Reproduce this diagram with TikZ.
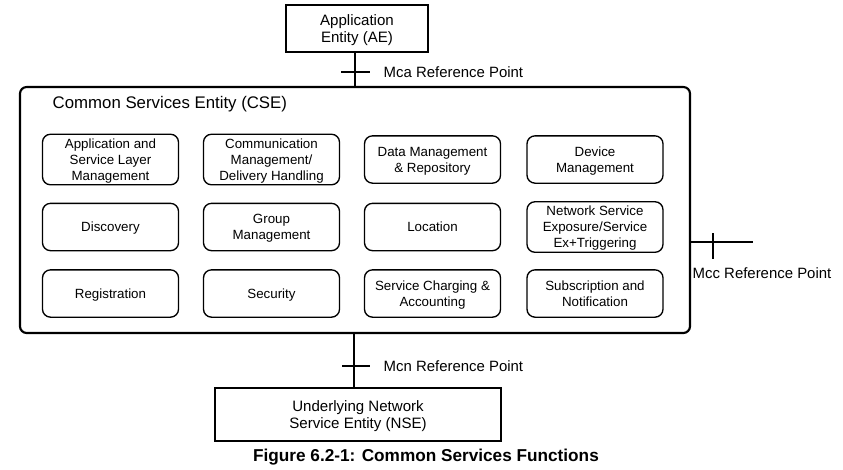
\documentclass[tikz,border=0pt]{standalone}
\usepackage{fontspec}
\setmainfont{Liberation Sans}
\usepackage{tikz}
\usetikzlibrary{positioning}

\begin{document}
\begin{tikzpicture}[x=0.75pt, y=-0.75pt,
  entity/.style={draw, line width=1.5pt, align=center, text depth=0pt,
              font=\fontsize{11.3}{13.2}\selectfont},
  func/.style={draw, line width=1pt, rounded corners=6pt, minimum width=102pt,
              minimum height=35.5pt, align=center, text depth=0pt,
              font=\fontsize{10}{12}\selectfont},
  cse/.style={draw, line width=1.6pt, rounded corners=5pt, minimum width=502.5pt,
              minimum height=184.5pt},
  link/.style={line width=1.4pt},
  refpt/.style={font=\fontsize{11.2}{13}\selectfont}
]
  \useasboundingbox (0,0) rectangle (843,469);
  % entities
  \node[entity, minimum width=106.5pt, minimum height=35.25pt, text depth=-1.5pt] (ae)
    at (357,28.5) {Application\\Entity (AE)};
  \node[cse] (cse) at (355,210) {};
  \node[font=\fontsize{12.6}{15}\selectfont, anchor=west] (csetitle) at (48,104)
    {Common Services Entity (CSE)};
  \node[entity, minimum width=214.5pt, minimum height=39.75pt, text depth=-4pt] (nse)
    at (358,414.5) {Underlying Network\\Service Entity (NSE)};

  % common services functions
  \node[func] (asl)  at (110.5,159.5) {Application and\\Service Layer\\Management};
  \node[func] (cmdh) at (271.5,159.5) {Communication\\Management/\\Delivery Handling};
  \node[func] (dmr)  at (432.5,159.5) {Data Management\\\& Repository};
  \node[func] (dmg)  at (595,159.5)   {Device\\Management};
  \node[func] (dis)  at (110.5,227)   {Discovery};
  \node[func] (gmg)  at (271.5,227)   {Group\\Management};
  \node[func] (loc)  at (432.5,227)   {Location};
  \node[func] (nse2) at (595,227)     {Network Service\\Exposure/Service\\Ex+Triggering};
  \node[func] (reg)  at (110.5,293.5) {Registration};
  \node[func] (sec)  at (271.5,293.5) {Security};
  \node[func] (sca)  at (432.5,293.5) {Service Charging \&\\Accounting};
  \node[func] (sub)  at (595,293.5)   {Subscription and\\Notification};

  % reference points
  \coordinate (mcaend) at (355,52);
  \draw[link] (mcaend) -- (mcaend |- cse.north);
  \draw[link] (341,72) -- (370,72);
  \node[refpt, anchor=west] (mca) at (379,72) {Mca Reference Point};

  \coordinate (mccend) at (753,242);
  \draw[link] (cse.east |- mccend) -- (mccend);
  \draw[link] (713,233) -- (713,259);
  \node[refpt, anchor=west] (mcc) at (688,273) {Mcc Reference Point};

  \coordinate (mcnend) at (354,333);
  \draw[link] (mcnend) -- (mcnend |- nse.north);
  \draw[link] (342,366) -- (370,366);
  \node[refpt, anchor=west] (mcn) at (379,366) {Mcn Reference Point};

  \node[font=\fontsize{12.9}{15}\selectfont\bfseries] (caption) at (426,457)
    {Figure 6.2-1: Common Services Functions};
\end{tikzpicture}
\end{document}
